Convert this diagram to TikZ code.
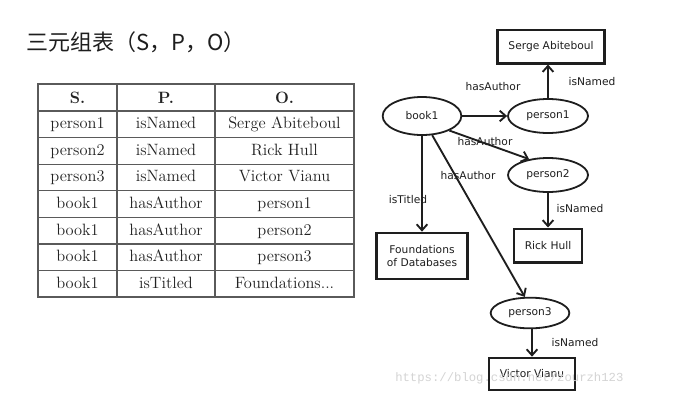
\documentclass[tikz,border=0pt]{standalone}
\usepackage{fontspec}
\newfontfamily\cjk{Noto Sans CJK SC}
\newfontfamily\gsans{DejaVu Sans}
\newfontfamily\wmono{Liberation Mono}
\usetikzlibrary{shapes.geometric,arrows.meta}
\definecolor{ink}{HTML}{1E1E1E}
\definecolor{tline}{HTML}{5A5A5A}
\definecolor{ttext}{HTML}{222222}
\definecolor{wm}{HTML}{D4D4D4}
\tikzset{
  ent/.style={ellipse,draw=ink,line width=1.35pt,inner sep=0pt,font=\gsans\fontsize{8}{9.6}\selectfont,text=ink},
  lit/.style={rectangle,draw=ink,line width=2pt,inner sep=0pt,minimum height=25pt,font=\gsans\fontsize{8}{9.6}\selectfont,text=ink,align=center},
  rel/.style={draw=ink,line width=1.4pt,-{Straight Barb[length=4.5pt,width=8pt,line width=1.4pt]}},
  elab/.style={font=\gsans\fontsize{8}{9.6}\selectfont,text=ink,inner sep=0pt},
  cell/.style={font=\fontsize{12.3}{14}\selectfont,text=ttext,inner sep=0pt},
  hcell/.style={font=\bfseries\fontsize{12.3}{14}\selectfont,text=ttext,inner sep=0pt},
}
\begin{document}
\begin{tikzpicture}[x=0.75pt,y=-0.75pt]
\useasboundingbox[fill=white] (0,0) rectangle (684,404);
% title
\node[anchor=west,inner sep=0pt,font=\cjk\fontsize{16.5}{18}\selectfont,text=ink] (title) at (26,42) {三元组表（S，P，O）};
% table grid
\draw[tline,line width=0.9pt] (38,84) rectangle (354,297);
\foreach \y in {111,137.6,164.2,190.8,217.4,244,270.6} \draw[tline,line width=0.9pt] (38,\y) -- (354,\y);
\draw[tline,line width=0.9pt] (117,84) -- (117,297) (215,84) -- (215,297);
% header
\node[hcell] (hS) at (77.5,97.5) {S.};
\node[hcell] (hP) at (166,97.5) {P.};
\node[hcell] (hO) at (284.5,97.5) {O.};
% rows
\foreach \i/\s/\p/\o in {1/person1/isNamed/Serge Abiteboul,2/person2/isNamed/Rick Hull,3/person3/isNamed/Victor Vianu,4/book1/hasAuthor/person1,5/book1/hasAuthor/person2,6/book1/hasAuthor/person3}{
  \pgfmathsetmacro{\yy}{111+26.6*(\i-0.5)+0.6}
  \node[cell] (s\i) at (77.5,\yy) {\strut\s};
  \node[cell] (p\i) at (166,\yy) {\strut\p};
  \node[cell] (o\i) at (284.5,\yy) {\strut\o};
}
\node[cell] (s7) at (77.5,284.5) {\strut book1};
\node[cell] (p7) at (166,284.5) {\strut isTitled};
\node[cell] (o7) at (284.5,284.5) {\strut Foundations...};
% graph nodes
\node[ent,minimum width=59pt,minimum height=28.5pt] (book1) at (422,116) {book1};
\node[ent,minimum width=60pt,minimum height=25.5pt] (person1) at (548,116) {person1};
\node[ent,minimum width=60pt,minimum height=25.5pt] (person2) at (548,175) {person2};
\node[ent,minimum width=59pt,minimum height=23pt] (person3) at (530,313) {person3};
\node[lit,minimum width=80pt] (serge) at (551,46.5) {Serge Abiteboul};
\node[lit,minimum width=51pt] (rick) at (548,245.5) {Rick Hull};
\node[lit,minimum width=68pt,minimum height=34.5pt] (found) at (422,256) {Foundations\\of Databases};
\node[lit,minimum width=64.5pt,minimum height=24pt] (victor) at (532,374) {Victor Vianu};
% edges
\draw[rel] (book1) -- (person1);
\draw[rel] (person1.north) -- (serge.south -| person1.north);
\draw[rel] (book1.-28) -- (person2.140);
\draw[rel] (book1.south) -- (found.north);
\draw[rel] (book1.-62) -- (person3.108);
\draw[rel] (person2.south) -- (rick.north);
\draw[rel] (person3.south -| victor) -- (victor.north);
% edge labels
\node[elab] (l1) at (493,87) {hasAuthor};
\node[elab] (l2) at (592,82) {isNamed};
\node[elab] (l3) at (485,142) {hasAuthor};
\node[elab] (l4) at (408,200) {isTitled};
\node[elab] (l5) at (468,176) {hasAuthor};
\node[elab] (l6) at (580,209) {isNamed};
\node[elab] (l7) at (575,343) {isNamed};
% watermark
\node[anchor=west,inner sep=0pt,font=\wmono\fontsize{9.2}{11}\selectfont,text=wm] (wmark) at (395,378) {https://blog.csdn.net/zourzh123};
\end{tikzpicture}
\end{document}
